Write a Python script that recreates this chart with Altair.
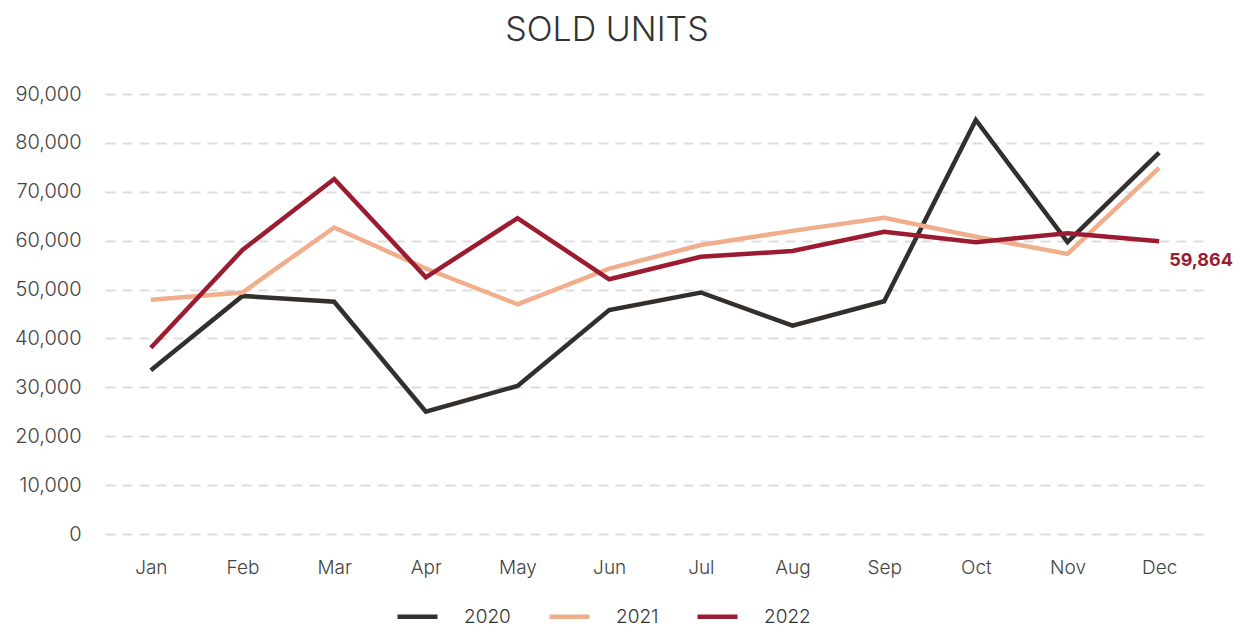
import altair as alt
import pandas as pd

months = ["Jan", "Feb", "Mar", "Apr", "May", "Jun", "Jul", "Aug", "Sep", "Oct", "Nov", "Dec"]
years = ["2020", "2021", "2022"]
sales_2020 = [33500, 48700, 47500, 25000, 30300, 45800, 49400, 42600, 47600, 84700, 59700, 78000]
sales_2021 = [47900, 49400, 62700, 54300, 47000, 54300, 59100, 62000, 64700, 60800, 57300, 74900]
sales_2022 = [38100, 58100, 72600, 52500, 64600, 52100, 56700, 57900, 61800, 59700, 61500, 59864]
colors = ["#332f2d", "#f0ae8c", "#9b1b30"]

rows = []
for yr, vals in zip(years, [sales_2020, sales_2021, sales_2022]):
    for m, v in zip(months, vals):
        rows.append({"month": m, "year": yr, "units": v})
df = pd.DataFrame(rows)
last = pd.DataFrame([{"month": months[-1], "units": sales_2022[-1], "label": f"{sales_2022[-1]:,}"}])

FONT = "Inter"

x_axis = alt.Axis(labelFontSize=19, labelColor="#444444", labelFont=FONT, labelFontWeight=300,
                  ticks=False, domain=False, labelPadding=24, labelAngle=0)
y_axis = alt.Axis(values=list(range(0, 90001, 10000)), format=",d", labelFontSize=20,
                  labelColor="#444444", labelFont=FONT, labelFontWeight=300,
                  ticks=False, domain=False, labelPadding=24,
                  gridColor="#dddddd", gridDash=[10, 7], gridWidth=2)
x = alt.X("month:N", sort=months, title=None,
          scale=alt.Scale(paddingInner=1, paddingOuter=0.5), axis=x_axis)
y = alt.Y("units:Q", title=None, scale=alt.Scale(domain=[0, 90000]), axis=y_axis)

lines = alt.Chart(df).mark_line(strokeWidth=4.5, strokeJoin="miter").encode(
    x=x, y=y,
    color=alt.Color("year:N", scale=alt.Scale(domain=years, range=colors),
                    legend=alt.Legend(title=None, orient="none", direction="horizontal",
                                      legendX=290, legendY=500,
                                      symbolType="stroke", symbolSize=1600, symbolStrokeWidth=4.5,
                                      labelFontSize=19, labelFont=FONT, labelColor="#333333",
                                      labelFontWeight=300, labelOffset=24, columnPadding=29)),
)

label = alt.Chart(last).mark_text(align="left", baseline="middle", dx=10, dy=20,
                                  fontSize=18, fontWeight="bold", font=FONT, color="#9b1b30").encode(
    x=x, y=y, text="label:N")

chart = alt.layer(lines, label).properties(
    width=1100, height=440,
    autosize=alt.AutoSizeParams(type="none"),
    padding={"left": 97, "top": 86, "right": 30, "bottom": 93},
    title=alt.Title("SOLD UNITS", fontSize=34, font=FONT, fontWeight=300, color="#333333",
                    anchor="middle", offset=36, dx=-48),
).configure_view(stroke=None)

chart.save("out.html", embed_options={"renderer": "svg", "actions": False})
